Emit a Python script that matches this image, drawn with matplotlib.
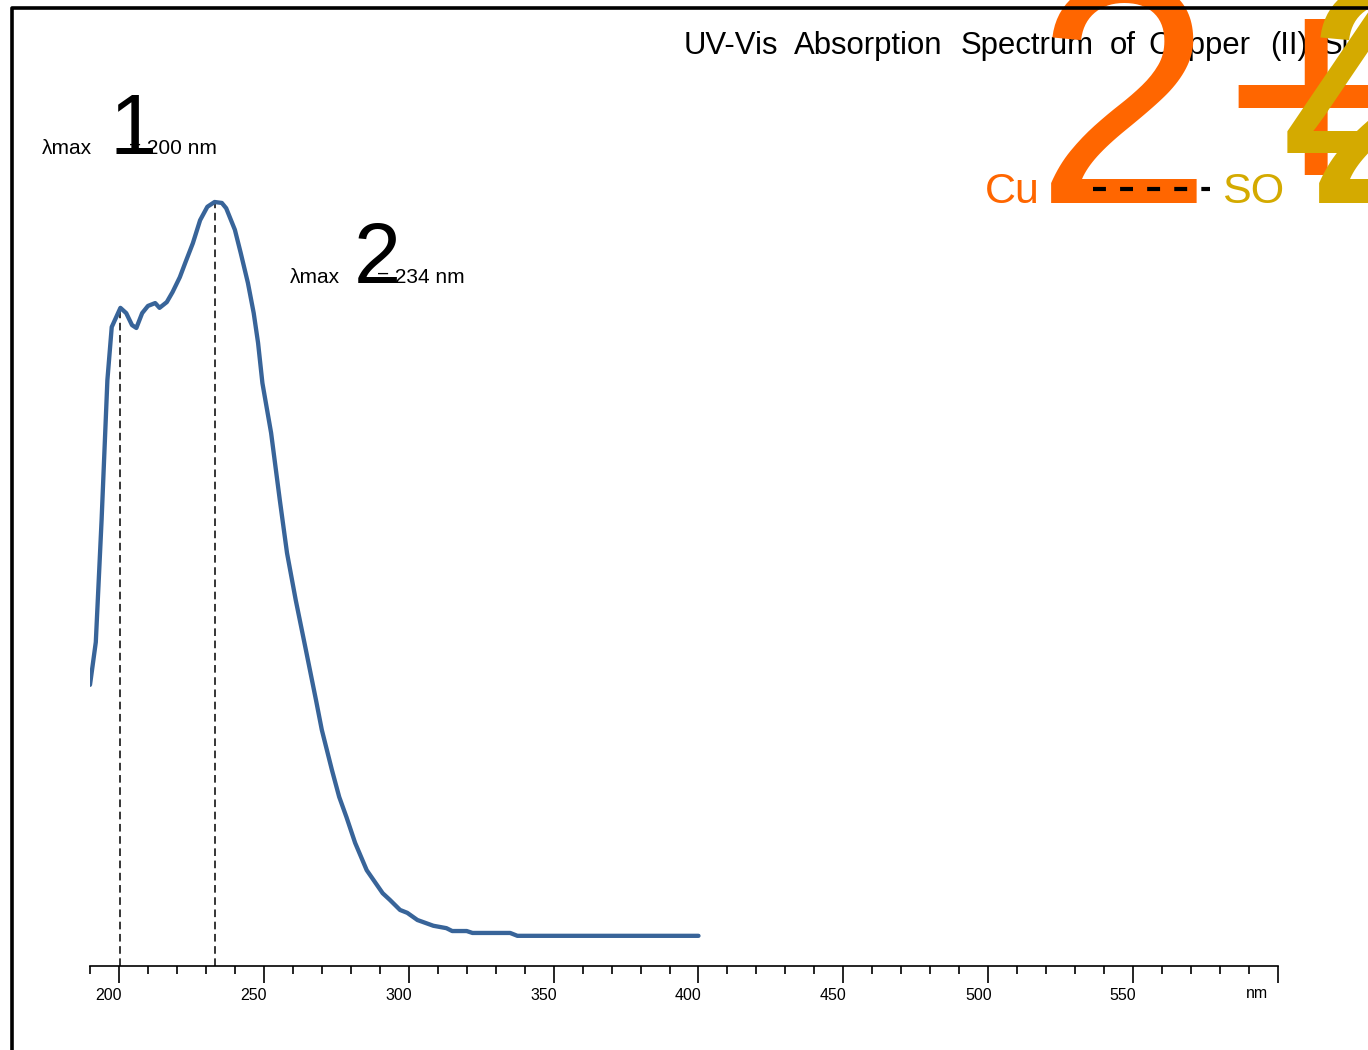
import matplotlib
matplotlib.use("Agg")
import matplotlib.pyplot as plt
import matplotlib.transforms as mtransforms
from matplotlib.lines import Line2D

plt.rcParams['font.family'] = ['Liberation Sans', 'DejaVu Sans']

# spectrum
wavelength = [190, 192, 194, 196, 197.5, 200.5, 202.5, 204.5, 206, 208,
              210, 212.5, 214, 216.5, 218.5, 221, 223, 225.5, 228, 230.5,
              233, 235.5, 237, 240, 242, 244.5, 246.5, 248, 249.5, 252.5,
              255.5, 258, 261, 264.5, 268, 270, 273.5, 276, 278.5, 281.5,
              285.5, 291, 293.5, 297, 299.5, 303, 308.5, 313, 315, 320,
              322, 335, 337.5, 400]
absorbance = [0.587, 0.676, 0.931, 1.223, 1.334, 1.374, 1.363, 1.338, 1.332, 1.363,
              1.378, 1.384, 1.374, 1.386, 1.407, 1.438, 1.470, 1.509, 1.557, 1.585,
              1.595, 1.593, 1.582, 1.537, 1.489, 1.426, 1.363, 1.301, 1.217, 1.113,
              0.973, 0.862, 0.764, 0.660, 0.555, 0.493, 0.409, 0.353, 0.311, 0.257,
              0.200, 0.152, 0.138, 0.117, 0.111, 0.096, 0.084, 0.079, 0.073, 0.073,
              0.069, 0.069, 0.063, 0.063]
peak_nm = [200.5, 233]
peak_abs = [1.374, 1.595]
major_ticks = [200, 250, 300, 350, 400, 450, 500, 550, 600]
major_labels = ["200", "250", "300", "350", "400", "450", "500", "550", "nm"]
minor_ticks = list(range(190, 601, 10))
title_words = ["UV-Vis", "Absorption", "Spectrum", "of", "Copper", "(II)", "Sulfate"]
title_x = [684, 794, 961, 1110, 1148, 1270, 1322]

W, H = 1368, 1050
fig = plt.figure(figsize=(W / 100, H / 100), dpi=100)


def fx(x):
    return x / W


def fy(y):
    return 1 - y / H


ax = fig.add_axes([fx(90), fy(966), fx(1278) - fx(90), fy(8) - fy(966)])
ax.plot(wavelength, absorbance, color='#386499', lw=3.1,
        solid_joinstyle='round', solid_capstyle='round', zorder=3)
ax.vlines(peak_nm, 0, peak_abs, colors='black', lw=1.1,
          linestyles=(0, (5, 3)), zorder=2)

ax.set_xlim(190, 600)
ax.set_ylim(0, 2.0)
for s in ['left', 'right', 'top']:
    ax.spines[s].set_visible(False)
ax.spines['bottom'].set_linewidth(1.2)
ax.set_yticks([])
ax.set_xticks(major_ticks, major_labels)
ax.set_xticks(minor_ticks, minor=True)
ax.tick_params(axis='x', which='major', direction='out', length=12, width=1.2,
               pad=4, labelsize=11.5)
ax.tick_params(axis='x', which='minor', direction='out', length=6, width=1.2)
ax.patch.set_visible(False)

for lab in ax.get_xticklabels():
    if lab.get_text() == "nm":
        off = mtransforms.ScaledTranslation(-0.21, 0.02, fig.dpi_scale_trans)
    else:
        off = mtransforms.ScaledTranslation(-0.10, 0, fig.dpi_scale_trans)
    lab.set_transform(lab.get_transform() + off)

# lambda max annotations
fig.text(fx(42), fy(154), "λmax", fontsize=15, va='baseline')
fig.text(fx(109), fy(154), "1", fontsize=61, va='baseline')
fig.text(fx(129), fy(154), "= 200 nm", fontsize=15, va='baseline')
fig.text(fx(290), fy(283), "λmax", fontsize=15, va='baseline')
fig.text(fx(354), fy(283), "2", fontsize=61, va='baseline')
fig.text(fx(377), fy(283), "= 234 nm", fontsize=15, va='baseline')

# title, word by word as spaced in the reference
for word, x in zip(title_words, title_x):
    fig.text(fx(x), fy(54), word, fontsize=22.4, va='baseline', zorder=1)

# the oversized formula
orange = '#FF6600'
gold = '#D4AA00'
fig.text(fx(985), fy(203), "Cu", fontsize=31, color=orange, va='baseline', zorder=2)
fig.text(fx(1035), fy(203), "2", fontsize=230, color=orange, va='baseline', zorder=2)
fig.text(fx(1222), fy(203), "+", fontsize=230, color=orange, va='baseline', zorder=2)
fig.text(fx(1222), fy(203), "SO", fontsize=31, color=gold, va='baseline', zorder=3)
fig.text(fx(1280), fy(203), "4", fontsize=230, color=gold, va='baseline', zorder=3)
fig.text(fx(1303), fy(203), "2−", fontsize=230, color=gold, va='baseline', zorder=3)
fig.add_artist(Line2D([fx(1093), fx(1210)], [fy(189), fy(189)], color='black',
                      lw=3, linestyle=(0, (3.1, 3.4)),
                      dash_capstyle='butt', transform=fig.transFigure, zorder=4))

# outer frame lines (top and left)
fig.add_artist(Line2D([fx(12), fx(12), 1], [0, fy(8), fy(8)], color='black',
                      lw=2.6, transform=fig.transFigure, zorder=5))

fig.savefig("out.png", dpi=100)
